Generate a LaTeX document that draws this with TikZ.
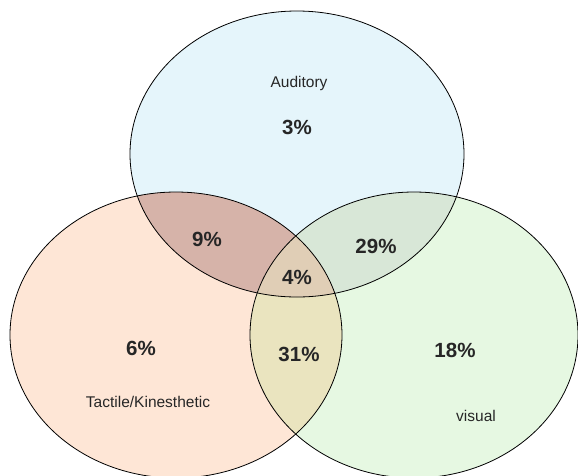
\documentclass[tikz,border=0pt]{standalone}
\usepackage{fontspec}
\setmainfont{Liberation Sans}
\definecolor{VennBlue}{HTML}{E5F5FB}
\definecolor{VennPeach}{HTML}{FEE6D6}
\definecolor{VennGreen}{HTML}{E6F8E2}
\definecolor{VennRose}{HTML}{D6B3A9}
\definecolor{VennSage}{HTML}{D8E7D7}
\definecolor{VennSand}{HTML}{EAE4BF}
\definecolor{VennCore}{HTML}{E0CEB6}

\begin{document}
\begin{tikzpicture}[
    x=1pt, y=-1pt,
    ring/.style={draw=black, line width=0.8pt},
    sense/.style={font=\fontsize{15.5}{18}\selectfont, text=black!85},
    pct/.style={font=\fontsize{20.5}{24}\selectfont\bfseries, text=black!85}
  ]
  \useasboundingbox (0,0) rectangle (578,475);
  \def\audset{(297,154) ellipse [x radius=167pt, y radius=143pt]}
  \def\tacset{(176,335) ellipse [x radius=166pt, y radius=143pt]}
  \def\visset{(414,335) ellipse [x radius=164pt, y radius=143pt]}
  % single sets
  \fill[VennBlue] \audset;
  \fill[VennPeach] \tacset;
  \fill[VennGreen] \visset;
  % pairwise overlaps
  \begin{scope}
    \clip \audset;
    \fill[VennRose] \tacset;
    \fill[VennSage] \visset;
  \end{scope}
  \begin{scope}
    \clip \tacset;
    \fill[VennSand] \visset;
    \clip \visset;
    \fill[VennCore] \audset;
  \end{scope}
  % outlines
  \draw[ring] \audset;
  \draw[ring] \tacset;
  \draw[ring] \visset;
  % texts
  \node[sense] (aud) at (299,83) {Auditory};
  \node[sense] (tac) at (148,402) {Tactile/Kinesthetic};
  \node[sense] (vis) at (476,416) {visual};
  \node[pct] (a) at (297,127) {3\%};
  \node[pct] (at) at (207,239) {9\%};
  \node[pct] (av) at (376,246) {29\%};
  \node[pct] (atv) at (297,277) {4\%};
  \node[pct] (t) at (141,348) {6\%};
  \node[pct] (tv) at (299,354) {31\%};
  \node[pct] (v) at (455,350) {18\%};
\end{tikzpicture}
\end{document}
